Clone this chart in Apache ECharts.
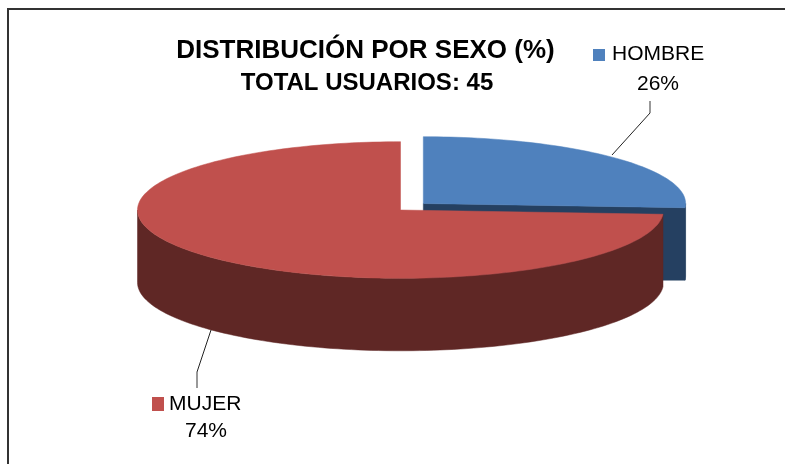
<!DOCTYPE html>
<html><head><meta charset="utf-8">
<style>html,body{margin:0;padding:0;background:#fff}#c{width:785px;height:464px}</style>
<script src="https://cdn.jsdelivr.net/npm/echarts@6/dist/echarts.min.js"></script>
</head><body><div id="c"></div>
<script>
const categories = ['HOMBRE', 'MUJER'];
const shares = [26, 74];
const titleLines = ['DISTRIBUCIÓN POR SEXO (%)', 'TOTAL USUARIOS: 45'];
const topColors = ['#4f81bd', '#c0504d'];
const sideColors = ['#254061', '#5f2725'];
// per-slice placement (exploded 3D pie)
const centers = [[423.3, 203.5], [400.5, 210]];
const radii = [[262.3, 66.8], [263, 68.3]];
const depth = 72.5;

const total = shares.reduce((a, b) => a + b, 0);
function pt(c, r, deg, dy) {
  const t = deg * Math.PI / 180;
  return [c[0] + r[0] * Math.sin(t), c[1] - r[1] * Math.cos(t) + (dy || 0)];
}
function arc(c, r, a, b, dy) {
  const n = Math.max(2, Math.ceil(Math.abs(b - a) / 1.5)), out = [];
  for (let i = 0; i <= n; i++) out.push(pt(c, r, a + (b - a) * i / n, dy));
  return out;
}
function poly(points, fill) {
  return { type: 'polygon', shape: { points }, style: { fill, stroke: fill, lineWidth: 0.5 } };
}
function renderSlice(params, api) {
  const i = params.dataIndex;
  const start = shares.slice(0, i).reduce((a, b) => a + b, 0) / total * 360;
  const end = start + api.value(1) / total * 360;
  const c = centers[i], r = radii[i], side = sideColors[i], children = [];
  const a = Math.max(start, 90), b = Math.min(end, 270);
  if (b > a) {
    const topEdge = arc(c, r, a, b, 0), botEdge = arc(c, r, b, a, depth);
    children.push(poly(topEdge.concat(botEdge), side));
  }
  if (i === 0) {
    const e = pt(c, r, end, 0);
    children.push(poly([c, e, [e[0], e[1] + depth], [c[0], e[1] + depth]], side));
  }
  children.push(poly([c].concat(arc(c, r, start, end, 0)), topColors[i]));
  return { type: 'group', children };
}
const legendPos = [
  { key: [593, 49, 12, 12], name: [612, 54], pct: [658, 84], line: [[612, 155], [650, 113], [650, 101]] },
  { key: [152, 397, 12, 14], name: [169, 404], pct: [206, 431], line: [[211, 330], [197, 372], [197, 388]] }
];
function renderLabel(params, api) {
  const i = params.dataIndex, p = legendPos[i];
  const text = (t, pos, align) => ({ type: 'text', x: pos[0], y: pos[1],
    style: { text: t, fill: '#000', font: '21px "Liberation Sans"', align, verticalAlign: 'middle' } });
  return { type: 'group', children: [
    { type: 'polyline', shape: { points: p.line.slice(0, 2) }, style: { stroke: '#222', lineWidth: 1, fill: null } },
    { type: 'polyline', shape: { points: p.line.slice(1) }, style: { stroke: '#777', lineWidth: 1.5, fill: null } },
    { type: 'rect', shape: { x: p.key[0], y: p.key[1], width: p.key[2], height: p.key[3] }, style: { fill: topColors[i] } },
    text(categories[i], p.name, 'left'),
    text(Math.round(api.value(1) / total * 100) + '%', p.pct, 'center')
  ] };
}
const data = categories.map((n, i) => [n, shares[i]]);
const chart = echarts.init(document.getElementById('c'), null, { renderer: 'canvas' });
chart.setOption({
  animation: false,
  backgroundColor: '#fff',
  graphic: [
    { type: 'line', shape: { x1: 7, y1: 9, x2: 785, y2: 9 }, style: { stroke: '#333', lineWidth: 2 }, z: 0 },
    { type: 'line', shape: { x1: 8, y1: 8, x2: 8, y2: 464 }, style: { stroke: '#333', lineWidth: 2 }, z: 0 }
  ],
  title: [
    { text: titleLines[0], left: 360.5, top: 33, textAlign: 'center', textStyle: { fontFamily: 'Liberation Sans', fontSize: 26, fontWeight: 'bold', color: '#000' } },
    { text: titleLines[1], left: 362, top: 66, textAlign: 'center', textStyle: { fontFamily: 'Liberation Sans', fontSize: 24, fontWeight: 'bold', color: '#000' } }
  ],
  series: [
    { type: 'custom', coordinateSystem: 'none', renderItem: renderSlice, data, silent: true, z: 2 },
    { type: 'custom', coordinateSystem: 'none', renderItem: renderLabel, data, silent: true, z: 3 }
  ]
});
</script></body></html>
